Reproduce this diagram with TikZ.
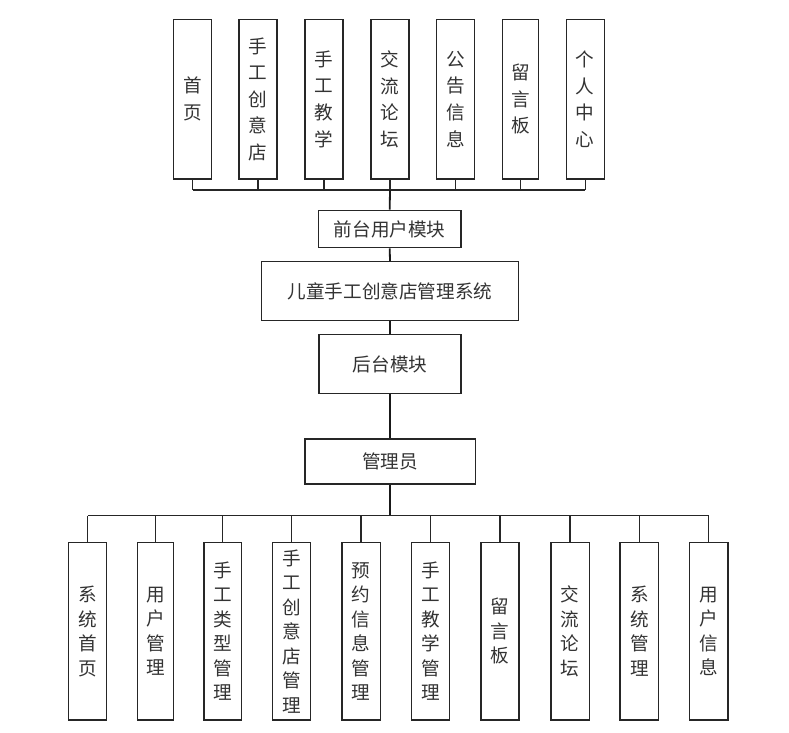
\documentclass[tikz,border=0pt]{standalone}
\usepackage{fontspec}
\newfontfamily\cjk{Noto Sans CJK SC}
\begin{document}
\begin{tikzpicture}[x=1pt,y=-1pt,
  box/.style={draw=black!85, line width=1.3pt, fill=white, inner sep=0pt, align=center, text=black!80},
  vtop/.style={box, minimum width=38pt, minimum height=159.7pt, font=\cjk\fontsize{18.6}{26.6}\selectfont},
  vbot/.style={box, minimum width=37.5pt, minimum height=177.3pt, font=\cjk\fontsize{18.6}{24.5}\selectfont},
  hbox/.style={box, font=\cjk\fontsize{18.6}{22}\selectfont},
  conn/.style={draw=black!85, line width=1.2pt},
  trunk/.style={draw=black!90, line width=1.8pt}]
\useasboundingbox (0,0) rectangle (789,732);
% top boxes
\node[vtop] (t1) at (192.5,99.2) {首\\页};
\node[vtop] (t2) at (258,99.2) {手\\工\\创\\意\\店};
\node[vtop] (t3) at (324,99.2) {手\\工\\教\\学};
\node[vtop] (t4) at (390,99.2) {交\\流\\论\\坛};
\node[vtop] (t5) at (455.7,99.2) {公\\告\\信\\息};
\node[vtop, minimum width=36.4pt] (t6) at (520.5,99.2) {留\\言\\板};
\node[vtop] (t7) at (585.2,99.2) {个\\人\\中\\心};
\coordinate (busT) at (390,190);
% middle boxes
\node[hbox, minimum width=142.7pt, minimum height=37.5pt] (front) at (389.7,229) {前台用户模块};
\node[hbox, minimum width=256.6pt, minimum height=59pt] (main) at (390,291.2) {儿童手工创意店管理系统};
\node[hbox, minimum width=142pt, minimum height=59pt] (back) at (390,364.2) {后台模块};
\node[hbox, minimum width=170.3pt, minimum height=45pt] (admin) at (390,461.5) {管理员};
\coordinate (busB) at (390,515.7);
% bottom boxes
\node[vbot] (b1) at (87.5,631.3) {系\\统\\首\\页};
\node[vbot, minimum width=36pt] (b2) at (155.3,631.3) {用\\户\\管\\理};
\node[vbot] (b3) at (222.8,631.3) {手\\工\\类\\型\\管\\理};
\node[vbot, minimum width=38.4pt] (b4) at (291.5,631.3) {手\\工\\创\\意\\店\\管\\理};
\node[vbot, minimum width=38.3pt] (b5) at (361,631.3) {预\\约\\信\\息\\管\\理};
\node[vbot, minimum width=38pt] (b6) at (430.7,631.3) {手\\工\\教\\学\\管\\理};
\node[vbot, minimum width=38pt] (b7) at (500,631.3) {留\\言\\板};
\node[vbot, minimum width=38.3pt] (b8) at (570,631.3) {交\\流\\论\\坛};
\node[vbot, minimum width=38.7pt] (b9) at (639.3,631.3) {系\\统\\管\\理};
\node[vbot, minimum width=38.7pt] (b10) at (708.7,631.3) {用\\户\\信\\息};
% top connectors
\foreach \n in {t1,t2,t3,t4,t5,t6,t7}{\draw[conn] (\n.south) -- (\n.south |- busT);}
\draw[conn] (t1.south |- busT) -- (t7.south |- busT);
\draw[trunk] (busT) -- (front.north);
\draw[trunk] (front.south) -- (main.north);
\draw[trunk] (main.south) -- (back.north);
\draw[trunk] (back.south) -- (admin.north);
\draw[trunk] (admin.south) -- (busB);
\draw[conn] (b1.north |- busB) -- (b10.north |- busB);
\foreach \n in {b1,b2,b3,b4,b5,b6,b7,b8,b9,b10}{\draw[conn] (\n.north) -- (\n.north |- busB);}
\end{tikzpicture}
\end{document}
